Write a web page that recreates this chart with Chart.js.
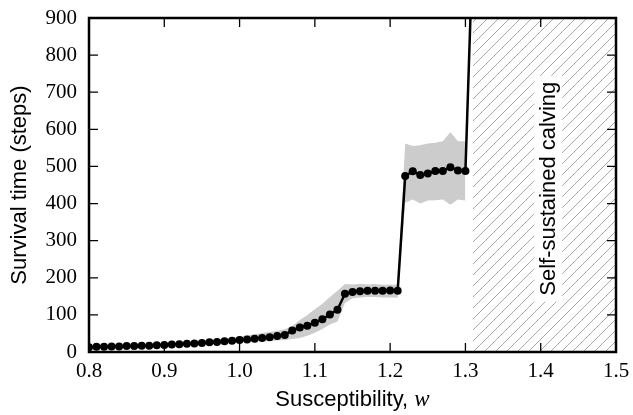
<!DOCTYPE html>
<html>
<head>
<meta charset="utf-8">
<script src="https://cdn.jsdelivr.net/npm/chart.js@4/dist/chart.umd.min.js"></script>
<style>
  html, body { margin: 0; padding: 0; background: #fff; }
  #wrap { position: relative; width: 633px; height: 415px; }
</style>
</head>
<body>
<div id="wrap"><canvas id="chart"></canvas></div>
<script>
// susceptibility w (x) and mean survival time, plus the spread band
const susceptibility = [
  0.80, 0.81, 0.82, 0.83, 0.84, 0.85, 0.86, 0.87, 0.88, 0.89,
  0.90, 0.91, 0.92, 0.93, 0.94, 0.95, 0.96, 0.97, 0.98, 0.99,
  1.00, 1.01, 1.02, 1.03, 1.04, 1.05, 1.06, 1.07, 1.08, 1.09,
  1.10, 1.11, 1.12, 1.13, 1.14, 1.15, 1.16, 1.17, 1.18, 1.19,
  1.20, 1.21, 1.22, 1.23, 1.24, 1.25, 1.26, 1.27, 1.28, 1.29,
  1.30, 1.31
];
const survival = [
  13, 14, 14, 15, 15, 16, 16, 17, 17, 18,
  19, 20, 21, 22, 23, 24, 26, 27, 29, 30,
  32, 34, 36, 38, 40, 43, 46, 58, 66, 71,
  79, 88, 101, 114, 157, 162, 164, 165, 165, 165,
  166, 165, 474, 487, 477, 481, 488, 488, 498, 489,
  488, 1110
];
const bandUpper = [
  15, 16, 16, 17, 17, 18, 19, 20, 20, 21,
  23, 24, 25, 27, 28, 30, 32, 34, 36, 38,
  42, 45, 48, 51, 54, 57, 61, 70, 86, 100,
  115, 130, 148, 165, 183, 182, 184, 182, 183, 181,
  182, 181, 562, 555, 557, 562, 564, 568, 592, 568,
  568
];
const bandLower = [
  11, 12, 12, 13, 13, 14, 14, 15, 15, 16,
  16, 17, 18, 18, 19, 20, 21, 22, 23, 24,
  26, 27, 28, 29, 30, 31, 32, 35, 38, 44,
  52, 62, 74, 82, 132, 145, 147, 148, 148, 147,
  147, 146, 402, 411, 400, 408, 409, 411, 397, 411,
  408
];
// self-sustained calving region
const calvingRange = [1.31, 1.5];
const calvingLabel = 'Self-sustained calving';
const calvingLabelAt = {x: 1.41, y: 440};

const xTitle = 'Susceptibility, ';
const xTitleVar = 'w';
const yTitle = 'Survival time (steps)';

const sans = '"Liberation Sans", Arial, sans-serif';
const serif = '"Liberation Serif", "Times New Roman", serif';

function makeHatch() {
  const s = 11;
  const c = document.createElement('canvas');
  c.width = s; c.height = s;
  const g = c.getContext('2d');
  g.strokeStyle = '#a8a8a8';
  g.lineWidth = 1;
  g.beginPath();
  g.moveTo(0, s); g.lineTo(s, 0);
  g.moveTo(-2, 2); g.lineTo(2, -2);
  g.moveTo(s - 2, s + 2); g.lineTo(s + 2, s - 2);
  g.stroke();
  return g.createPattern(c, 'repeat');
}

const pts = arr => arr.map((v, i) => ({x: susceptibility[i], y: v}));

const framePlugin = {
  id: 'frame',
  afterDatasetsDraw(chart) {
    const {ctx, chartArea: a, scales: {x, y}} = chart;
    ctx.save();

    // label inside the hatched region
    const lx = x.getPixelForValue(calvingLabelAt.x);
    const ly = y.getPixelForValue(calvingLabelAt.y);
    ctx.translate(lx, ly);
    ctx.rotate(-Math.PI / 2);
    ctx.font = '22px ' + sans;
    const tw = ctx.measureText(calvingLabel).width;
    ctx.fillStyle = '#fff';
    ctx.fillRect(-tw / 2 - 6, -14, tw + 12, 28);
    ctx.fillStyle = '#000';
    ctx.textAlign = 'center';
    ctx.textBaseline = 'middle';
    ctx.fillText(calvingLabel, 0, 1);
    ctx.setTransform(1, 0, 0, 1, 0, 0);

    // inward ticks on all four sides
    ctx.strokeStyle = '#000';
    ctx.lineWidth = 1.3;
    const tl = 9;
    ctx.beginPath();
    x.ticks.forEach(t => {
      const px = x.getPixelForValue(t.value);
      ctx.moveTo(px, a.bottom); ctx.lineTo(px, a.bottom - tl);
      ctx.moveTo(px, a.top); ctx.lineTo(px, a.top + tl);
    });
    y.ticks.forEach(t => {
      const py = y.getPixelForValue(t.value);
      ctx.moveTo(a.left, py); ctx.lineTo(a.left + tl, py);
      ctx.moveTo(a.right, py); ctx.lineTo(a.right - tl, py);
    });
    ctx.stroke();

    ctx.lineWidth = 2.5;
    ctx.strokeRect(a.left, a.top, a.right - a.left, a.bottom - a.top);

    // x axis title with italic w
    ctx.font = '22px ' + sans;
    const w1 = ctx.measureText(xTitle).width;
    ctx.font = 'italic 23px ' + serif;
    const w2 = ctx.measureText(xTitleVar).width;
    const cx = (a.left + a.right) / 2;
    const sx = cx - (w1 + w2) / 2;
    ctx.fillStyle = '#000';
    ctx.textAlign = 'left';
    ctx.textBaseline = 'alphabetic';
    ctx.font = '22px ' + sans;
    ctx.fillText(xTitle, sx, 406);
    ctx.font = 'italic 23px ' + serif;
    ctx.fillText(xTitleVar, sx + w1, 406);
    ctx.restore();
  }
};

new Chart(document.getElementById('chart'), {
  type: 'line',
  data: {
    datasets: [
      {
        data: pts(survival),
        borderColor: '#000',
        borderWidth: 2.5,
        pointRadius: 4,
        pointBackgroundColor: '#000',
        pointBorderColor: '#000',
        pointBorderWidth: 0,
        tension: 0,
        fill: false,
        order: 0,
      },
      {
        data: pts(bandUpper),
        borderWidth: 0,
        pointRadius: 0,
        backgroundColor: '#cccccc',
        fill: '+1',
        order: 1,
      },
      {
        data: pts(bandLower),
        borderWidth: 0,
        pointRadius: 0,
        fill: false,
        order: 1,
      },
      {
        data: calvingRange.map(v => ({x: v, y: 900})),
        borderWidth: 0,
        pointRadius: 0,
        backgroundColor: makeHatch(),
        fill: 'start',
        order: 2,
      },
    ]
  },
  options: {
    responsive: true,
    maintainAspectRatio: false,
    animation: false,
    layout: {padding: {top: 18, right: 17, left: 0, bottom: 0}},
    plugins: {legend: {display: false}, tooltip: {enabled: false}},
    scales: {
      x: {
        type: 'linear',
        min: 0.8,
        max: 1.5,
        grid: {display: false, drawTicks: true, tickLength: 7},
        border: {display: false},
        ticks: {
          stepSize: 0.1,
          padding: 0,
          color: '#000',
          font: {family: serif, size: 21},
          maxRotation: 0,
          callback: v => v.toFixed(1),
        },
        afterFit: s => { s.height = 63; },
      },
      y: {
        min: 0,
        max: 900,
        grid: {display: false, drawTicks: true, tickLength: 12},
        border: {display: false},
        ticks: {
          stepSize: 100,
          padding: 0,
          color: '#000',
          font: {family: serif, size: 21},
        },
        title: {
          display: true,
          text: yTitle,
          color: '#000',
          font: {family: sans, size: 22},
          padding: {top: 7, bottom: 0},
        },
        afterFit: s => { s.width = 89; },
      },
    },
  },
  plugins: [framePlugin],
});
</script>
</body>
</html>
